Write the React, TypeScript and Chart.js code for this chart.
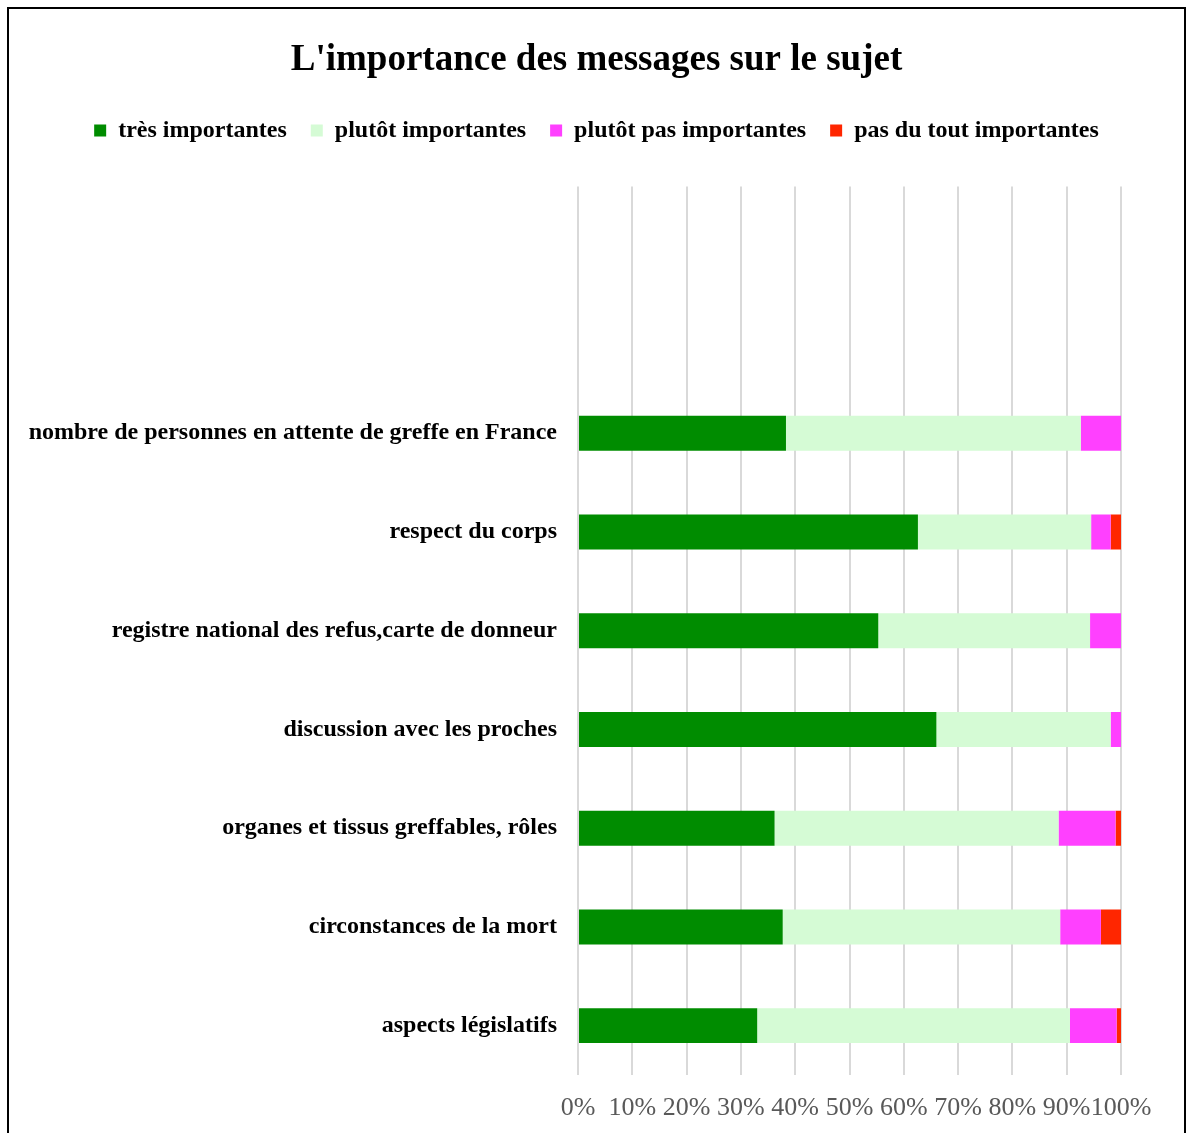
import React, { useEffect, useRef } from "react";
import { Chart, registerables } from "chart.js";

Chart.register(...registerables);

const categories = [
  "",
  "",
  "nombre de personnes en attente de greffe en France",
  "respect du corps",
  "registre national des refus,carte de donneur",
  "discussion avec les proches",
  "organes et tissus greffables, rôles",
  "circonstances de la mort",
  "aspects législatifs",
];

const seriesNames = [
  "très importantes",
  "plutôt importantes",
  "plutôt pas importantes",
  "pas du tout importantes",
];

const tresImportantes = [null, null, 38.3, 62.6, 55.3, 66.0, 36.2, 37.7, 33.0];
const plutotImportantes = [null, null, 54.3, 31.9, 39.0, 32.1, 52.3, 51.1, 57.6];
const plutotPasImportantes = [null, null, 7.4, 3.6, 5.7, 1.9, 10.5, 7.5, 8.6];
const pasDuToutImportantes = [null, null, 0, 1.9, 0, 0, 1.0, 3.7, 0.8];

const colors = ["#008C00", "#D5FBD5", "#FF40FF", "#FF2600"];

const xTicks = [0, 10, 20, 30, 40, 50, 60, 70, 80, 90, 100];

const legendSpacer = {
  id: "legendSpacer",
  beforeLayout(chart: any) {
    const lg = chart.legend;
    if (lg && !lg.__patched) {
      const orig = lg.fit.bind(lg);
      lg.fit = function () {
        orig();
        lg.height += 34;
      };
      lg.__patched = true;
    }
  },
};

export default function App() {
  const ref = useRef<HTMLCanvasElement | null>(null);

  useEffect(() => {
    if (!ref.current) return;
    const values = [tresImportantes, plutotImportantes, plutotPasImportantes, pasDuToutImportantes];
    const chart = new Chart(ref.current, {
      type: "bar",
      data: {
        labels: categories,
        datasets: seriesNames.map((name, i) => ({
          label: name,
          data: values[i],
          backgroundColor: colors[i],
          borderWidth: 0,
          barPercentage: 1,
          categoryPercentage: 0.354,
        })),
      },
      plugins: [legendSpacer],
      options: {
        indexAxis: "y",
        animation: false,
        responsive: false,
        maintainAspectRatio: false,
        layout: { padding: { left: 0, right: 0, top: 29, bottom: 0 } },
        plugins: {
          title: {
            display: true,
            text: "L'importance des messages sur le sujet",
            color: "#000",
            font: { family: "Liberation Serif", size: 37, weight: "bold" },
            padding: { top: 0, bottom: 12 },
          },
          legend: {
            display: true,
            position: "top",
            labels: {
              color: "#000",
              boxWidth: 12,
              boxHeight: 12,
              padding: 24,
              font: { family: "Liberation Serif", size: 24, weight: "bold" },
            },
          },
          tooltip: { enabled: false },
        },
        scales: {
          x: {
            stacked: true,
            min: 0,
            max: 100,
            afterBuildTicks: (scale: any) => {
              scale.ticks = xTicks.map((v) => ({ value: v }));
            },
            afterFit: (scale: any) => {
              scale.height = 58;
            },
            ticks: {
              color: "#595959",
              font: { family: "Liberation Serif", size: 26 },
              padding: 18,
              maxRotation: 0,
              autoSkip: false,
              callback: (v: any) => v + "%",
            },
            grid: { color: "#d9d9d9", lineWidth: 2, drawTicks: false },
            border: { display: false },
          },
          y: {
            stacked: true,
            afterFit: (scale: any) => {
              scale.width = 569;
            },
            ticks: {
              color: "#000",
              font: { family: "Liberation Serif", size: 24, weight: "bold" },
              padding: 21,
              autoSkip: false,
            },
            grid: { display: false, drawTicks: false },
            border: { display: false },
          },
          yRight: {
            type: "linear",
            position: "right",
            display: true,
            afterFit: (scale: any) => {
              scale.width = 63;
            },
            ticks: { display: false },
            grid: { display: false, drawTicks: false },
            border: { display: false },
          },
        },
      },
    });
    return () => chart.destroy();
  }, []);

  return (
    <div
      style={{
        position: "absolute",
        left: 7,
        top: 7,
        width: 1179,
        height: 1126,
        boxSizing: "border-box",
        borderTop: "2px solid #000",
        borderLeft: "2px solid #000",
        borderRight: "2px solid #000",
        background: "#fff",
      }}
    >
      <canvas ref={ref} width={1175} height={1124} style={{ display: "block" }} />
    </div>
  );
}
